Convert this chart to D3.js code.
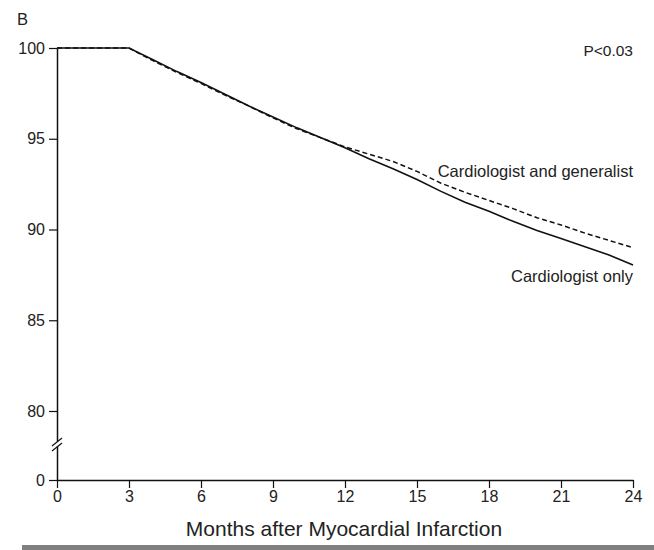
<!DOCTYPE html>
<html>
<head>
<meta charset="utf-8">
<script src="https://cdn.jsdelivr.net/npm/d3@7"></script>
<style>
  html, body { margin: 0; padding: 0; background: #fff; }
  svg text { font-family: "Liberation Sans", Arial, sans-serif; fill: #222; }
</style>
</head>
<body>
<svg id="chart" width="654" height="550"></svg>
<script>
const months = [0, 3, 4, 5, 6, 7, 8, 9, 10, 11, 12, 13, 14, 15, 16, 17, 18, 19, 20, 21, 22, 23, 24];
const cardiologistOnly = [100, 100, 99.35, 98.7, 98.1, 97.45, 96.8, 96.2, 95.6, 95.05, 94.5, 93.9, 93.35, 92.75, 92.1, 91.5, 91.0, 90.45, 89.95, 89.5, 89.05, 88.6, 88.05];
const cardiologistAndGeneralist = [100, 100, 99.3, 98.65, 98.05, 97.4, 96.8, 96.15, 95.55, 95.05, 94.55, 94.15, 93.75, 93.2, 92.55, 92.05, 91.6, 91.15, 90.65, 90.25, 89.8, 89.4, 89.0];
const xTicks = [0, 3, 6, 9, 12, 15, 18, 21, 24];
const yTicks = [0, 80, 85, 90, 95, 100];
const seriesNames = ["Cardiologist and generalist", "Cardiologist only"];

const svg = d3.select("#chart");
const x = d3.scaleLinear().domain([0, 24]).range([57, 633]);
const y = d3.scaleLinear().domain([0, 80, 100]).range([480, 411, 48]);

// Axes
const xAxis = d3.axisBottom(x).tickValues(xTicks).tickSize(8).tickPadding(3).tickSizeOuter(0);
const gx = svg.append("g").attr("transform", "translate(0,480)").call(xAxis);
gx.select(".domain").attr("stroke", "#111").attr("stroke-width", 1.5);
gx.selectAll(".tick line").attr("stroke", "#111").attr("stroke-width", 1.2);
gx.selectAll(".tick text").attr("font-size", 16).attr("fill", "#222")
  .attr("font-family", "Liberation Sans, Arial, sans-serif");

const yAxis = d3.axisLeft(y).tickValues(yTicks).tickSize(8).tickPadding(4).tickSizeOuter(0);
const gy = svg.append("g").attr("transform", "translate(57,0)").call(yAxis);
gy.select(".domain").attr("stroke", "#111").attr("stroke-width", 1.5);
gy.selectAll(".tick line").attr("stroke", "#111").attr("stroke-width", 1.2);
gy.selectAll(".tick text").attr("font-size", 16).attr("fill", "#222")
  .attr("font-family", "Liberation Sans, Arial, sans-serif");

// Axis break marks
const by = (y(0) + y(80)) / 2 - 1;
svg.append("rect").attr("x", 54).attr("y", by - 3).attr("width", 6).attr("height", 5).attr("fill", "#fff");
[-2.5, 2.5].forEach(off => {
  svg.append("line")
    .attr("x1", 52).attr("y1", by + off + 4)
    .attr("x2", 62).attr("y2", by + off - 4)
    .attr("stroke", "#111").attr("stroke-width", 1.3);
});

// Lines
const line = d3.line().x(d => x(d[0])).y(d => y(d[1]));
const dataDashed = months.map((m, i) => [m, cardiologistAndGeneralist[i]]);
const dataSolid = months.map((m, i) => [m, cardiologistOnly[i]]);

svg.append("path").datum(dataDashed).attr("d", line)
  .attr("fill", "none").attr("stroke", "#111").attr("stroke-width", 1.5)
  .attr("stroke-dasharray", "5,3");
svg.append("path").datum(dataSolid).attr("d", line)
  .attr("fill", "none").attr("stroke", "#111").attr("stroke-width", 1.6);

// Labels
svg.append("text").attr("x", 633).attr("y", 177).attr("text-anchor", "end")
  .attr("font-size", 16.5).text(seriesNames[0]);
svg.append("text").attr("x", 633).attr("y", 282).attr("text-anchor", "end")
  .attr("font-size", 16.5).text(seriesNames[1]);
svg.append("text").attr("x", 633).attr("y", 56).attr("text-anchor", "end")
  .attr("font-size", 15.5).text("P<0.03");
svg.append("text").attr("x", 17).attr("y", 25)
  .attr("font-size", 16.5).text("B");
svg.append("text").attr("x", 344).attr("y", 536).attr("text-anchor", "middle")
  .attr("font-size", 21).text("Months after Myocardial Infarction");

// Bottom gray rule
svg.append("rect").attr("x", 22).attr("y", 545).attr("width", 632).attr("height", 5).attr("fill", "#808080");
</script>
</body>
</html>
